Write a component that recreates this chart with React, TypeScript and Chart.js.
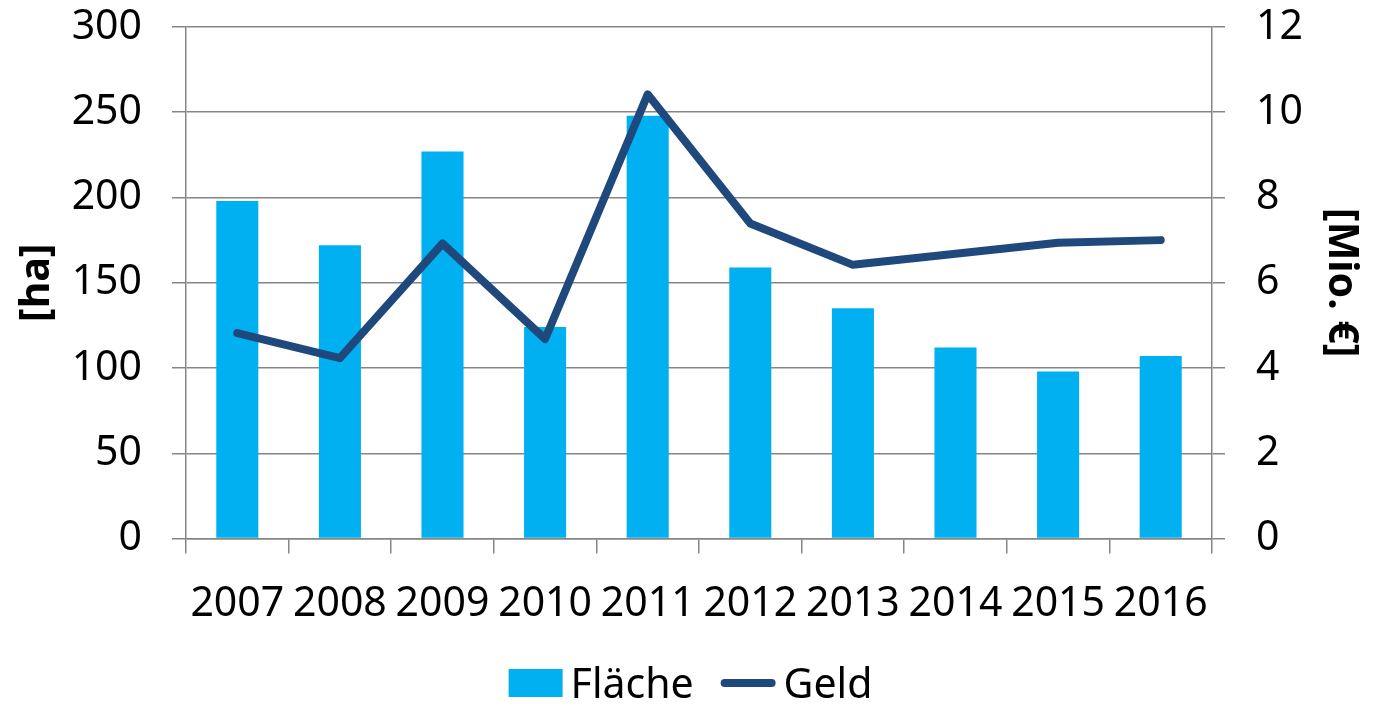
import React, { useEffect, useRef } from "react";
import { Chart, registerables } from "chart.js";

Chart.register(...registerables);

const years = ["2007", "2008", "2009", "2010", "2011", "2012", "2013", "2014", "2015", "2016"];
const flaecheHa = [198, 172, 227, 124, 248, 159, 135, 112, 98, 107];
const geldMio = [4.82, 4.23, 6.92, 4.68, 10.42, 7.39, 6.42, 6.68, 6.94, 7.0];
const seriesNames = ["Fläche", "Geld"];
const leftAxisTitle = "[ha]";
const rightAxisTitle = "[Mio. €]";

const FONT = "'Noto Sans', sans-serif";
const BAR_COLOR = "#00B0F0";
const LINE_COLOR = "#1F497D";
const GRID = "#868686";
const W = 1373;
const H = 706;
const PAD_TOP = 27;

const legendPlugin = {
  id: "customLegend",
  afterDraw(chart: any) {
    const ctx = chart.ctx;
    const ds = chart.data.datasets;
    ctx.save();
    ctx.font = `41px ${FONT}`;
    const boxW = 54, boxH = 28, gapText = 8, gapItem = 27, lineW = 55;
    const w0 = ctx.measureText(ds[0].label).width;
    const w1 = ctx.measureText(ds[1].label).width;
    const total = boxW + gapText + w0 + gapItem + lineW + gapText + w1;
    let x = chart.width / 2 + 4 - total / 2;
    const baseY = 698;
    const cy = 683;
    ctx.fillStyle = ds[0].backgroundColor;
    ctx.fillRect(x, cy - boxH / 2, boxW, boxH);
    x += boxW + gapText;
    ctx.fillStyle = "#000";
    ctx.textBaseline = "alphabetic";
    ctx.textAlign = "left";
    ctx.fillText(ds[0].label, x, baseY);
    x += w0 + gapItem;
    ctx.strokeStyle = ds[1].borderColor;
    ctx.lineWidth = 8;
    ctx.lineCap = "round";
    ctx.beginPath();
    ctx.moveTo(x + 4, cy);
    ctx.lineTo(x + lineW - 4, cy);
    ctx.stroke();
    x += lineW + gapText;
    ctx.fillText(ds[1].label, x, baseY);
    ctx.restore();
  },
};

export default function App() {
  const ref = useRef<HTMLCanvasElement | null>(null);
  useEffect(() => {
    if (!ref.current) return;
    const tickFont = { family: FONT, size: 41 };
    const titleFont = { family: FONT, size: 41, weight: "bold" as const };
    const chart = new Chart(ref.current, {
      type: "bar",
      data: {
        labels: years,
        datasets: [
          {
            type: "bar",
            label: seriesNames[0],
            data: flaecheHa,
            backgroundColor: BAR_COLOR,
            borderWidth: 0,
            yAxisID: "y",
            order: 1,
            categoryPercentage: 1,
            barPercentage: 0.41,
          },
          {
            type: "line",
            label: seriesNames[1],
            data: geldMio,
            borderColor: LINE_COLOR,
            backgroundColor: LINE_COLOR,
            borderWidth: 8,
            borderCapStyle: "round",
            borderJoinStyle: "round",
            pointRadius: 0,
            tension: 0,
            yAxisID: "y1",
            order: 0,
          } as any,
        ],
      },
      options: {
        responsive: false,
        animation: false,
        layout: { padding: { top: PAD_TOP, bottom: 90, left: 0, right: 0 } },
        plugins: { legend: { display: false }, tooltip: { enabled: false } },
        scales: {
          x: {
            grid: { drawOnChartArea: false, tickLength: 15, color: GRID, lineWidth: 1.5, offset: true },
            border: { color: GRID, width: 1.5 },
            ticks: { font: tickFont, color: "#000", maxRotation: 0, minRotation: 0, autoSkip: false, padding: 26 },
            afterFit(s: any) {
              s.height = H - 90 - 538.5;
              s.paddingTop = 0;
              s.paddingBottom = 0;
            },
          },
          y: {
            position: "left",
            min: 0,
            max: 300,
            ticks: { stepSize: 50, padding: 30, font: tickFont, color: "#000" },
            grid: { color: GRID, lineWidth: 1.5, tickLength: 14 },
            border: { color: GRID, width: 1.5 },
            title: { display: true, text: leftAxisTitle, font: titleFont, color: "#000", padding: { top: 13, bottom: 0 } },
            afterFit(s: any) {
              s.width = 186;
              s.paddingTop = 0;
              s.paddingBottom = 0;
            },
          },
          y1: {
            position: "right",
            min: 0,
            max: 12,
            ticks: { stepSize: 2, padding: 31, font: tickFont, color: "#000" },
            grid: { drawOnChartArea: false, color: GRID, lineWidth: 1.5, tickLength: 13 },
            border: { color: GRID, width: 1.5 },
            title: { display: true, text: rightAxisTitle, font: titleFont, color: "#000", padding: { top: 8, bottom: 0 } },
            afterFit(s: any) {
              s.width = W - 1212;
              s.paddingTop = 0;
              s.paddingBottom = 0;
            },
          },
        },
      } as any,
      plugins: [legendPlugin],
    });
    return () => chart.destroy();
  }, []);
  return (
    <div style={{ position: "fixed", left: 0, top: 0, width: W, height: H, background: "#fff" }}>
      <canvas ref={ref} width={W} height={H} style={{ display: "block" }} />
    </div>
  );
}
